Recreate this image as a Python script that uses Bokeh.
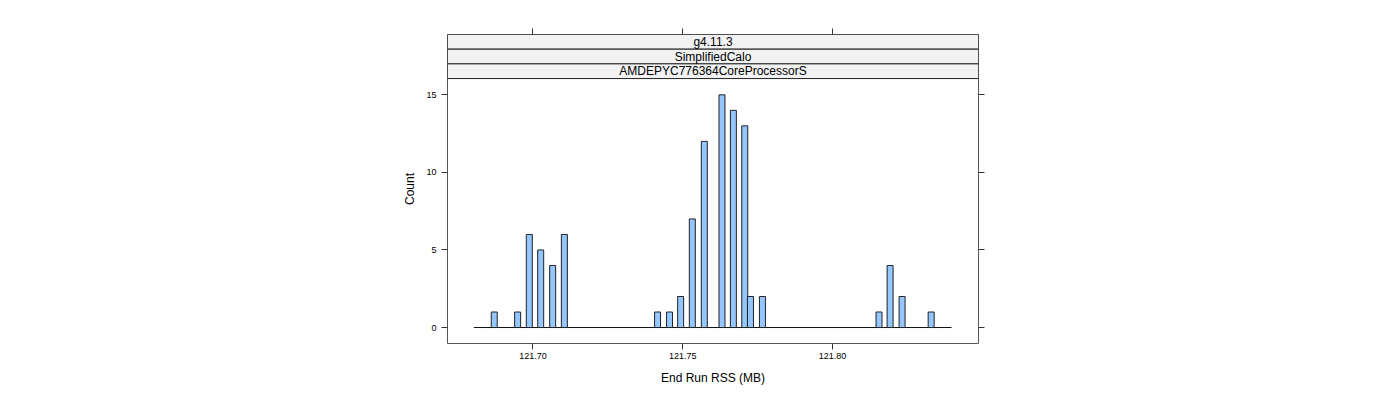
from bokeh.plotting import figure
from bokeh.models import Range1d, FixedTicker, LinearAxis
from bokeh.core.properties import value
from bokeh.embed import file_html
from bokeh.resources import INLINE

# ---- data ----
bar_centers = [121.6871, 121.6949, 121.6988, 121.7026, 121.7066, 121.7105,
               121.7416, 121.7456, 121.7493, 121.7532, 121.7572, 121.7631,
               121.7669, 121.7707, 121.7726, 121.7766,
               121.8155, 121.8192, 121.8232, 121.8329]
counts = [1, 1, 6, 5, 4, 6,
          1, 1, 2, 7, 12, 15, 14, 13, 2, 2,
          1, 4, 2, 1]
bin_width = 0.002
hist_range = [121.6803, 121.8397]
x_ticks = [121.70, 121.75, 121.80]
x_tick_labels = ["121.70", "121.75", "121.80"]
y_ticks = [0, 5, 10, 15]
y_tick_labels = ["0", "5", "10", "15"]
strip_labels = ["g4.11.3", "SimplifiedCalo", "AMDEPYC776364CoreProcessorS"]
x_label = "End Run RSS (MB)"
y_label = "Count"

# ---- layout ----
X0, X1 = 121.6715, 121.8487
Y0, Y1 = -1.03, 18.89
panel_top = 16.05
strip_h = (Y1 - panel_top) / len(strip_labels)

FONT = "Liberation Sans"
DARK = "#333333"

p = figure(width=1400, height=400, output_backend="svg", toolbar_location=None,
           x_range=Range1d(X0, X1), y_range=Range1d(Y0, Y1),
           min_border_left=447, min_border_right=422,
           min_border_top=34, min_border_bottom=57)
p.grid.visible = False
p.outline_line_color = "#555555"
p.outline_line_width = 1
p.background_fill_color = "white"
p.border_fill_color = "white"

# baseline (empty bins)
p.segment(x0=[hist_range[0]], x1=[hist_range[1]], y0=[0], y1=[0],
          line_color="#111111", line_width=1)

# bars
lefts = [c - bin_width / 2 for c in bar_centers]
rights = [c + bin_width / 2 for c in bar_centers]
p.quad(left=lefts, right=rights, bottom=[0] * len(counts), top=counts,
       fill_color="#94C6FF", line_color="#222222", line_width=1)

# strips (top to bottom)
n = len(strip_labels)
s_bottom = [panel_top + (n - 1 - i) * strip_h for i in range(n)]
s_top = [b + strip_h for b in s_bottom]
p.quad(left=[X0] * n, right=[X1] * n, bottom=s_bottom, top=s_top,
       fill_color="#F2F2F2", line_color="#222222", line_width=1)
p.text(x=[(X0 + X1) / 2] * n, y=[(b + t) / 2 for b, t in zip(s_bottom, s_top)],
       text=strip_labels, text_align="center", text_baseline="middle",
       text_font=value(FONT), text_font_size="12px", text_color="#000000")


def style_axis(ax, ticks, labels, show_labels):
    ax.ticker = FixedTicker(ticks=ticks)
    if show_labels:
        ax.major_label_overrides = {t: l for t, l in zip(ticks, labels)}
    else:
        ax.major_label_overrides = {t: "" for t in ticks}
    ax.major_tick_out = 6
    ax.major_tick_in = 0
    ax.minor_tick_line_color = None
    ax.axis_line_color = None
    ax.major_tick_line_color = DARK
    ax.major_label_text_font = FONT
    ax.major_label_text_font_size = "9px"
    ax.major_label_text_color = "#000000"
    ax.axis_label_text_font = FONT
    ax.axis_label_text_font_size = "12px"
    ax.axis_label_text_font_style = "normal"
    ax.axis_label_text_color = "#000000"


xa = p.xaxis[0]
style_axis(xa, x_ticks, x_tick_labels, True)
xa.axis_label = x_label
xa.major_label_standoff = 3
xa.axis_label_standoff = 9

ya = p.yaxis[0]
style_axis(ya, y_ticks, y_tick_labels, True)
ya.axis_label = y_label
ya.major_label_standoff = 5
ya.axis_label_standoff = 6
ya.major_label_orientation = "horizontal"

top_ax = LinearAxis()
style_axis(top_ax, x_ticks, x_tick_labels, False)
p.add_layout(top_ax, "above")

right_ax = LinearAxis()
style_axis(right_ax, y_ticks, y_tick_labels, False)
p.add_layout(right_ax, "right")

open("out.html", "w").write(file_html(p, INLINE))
